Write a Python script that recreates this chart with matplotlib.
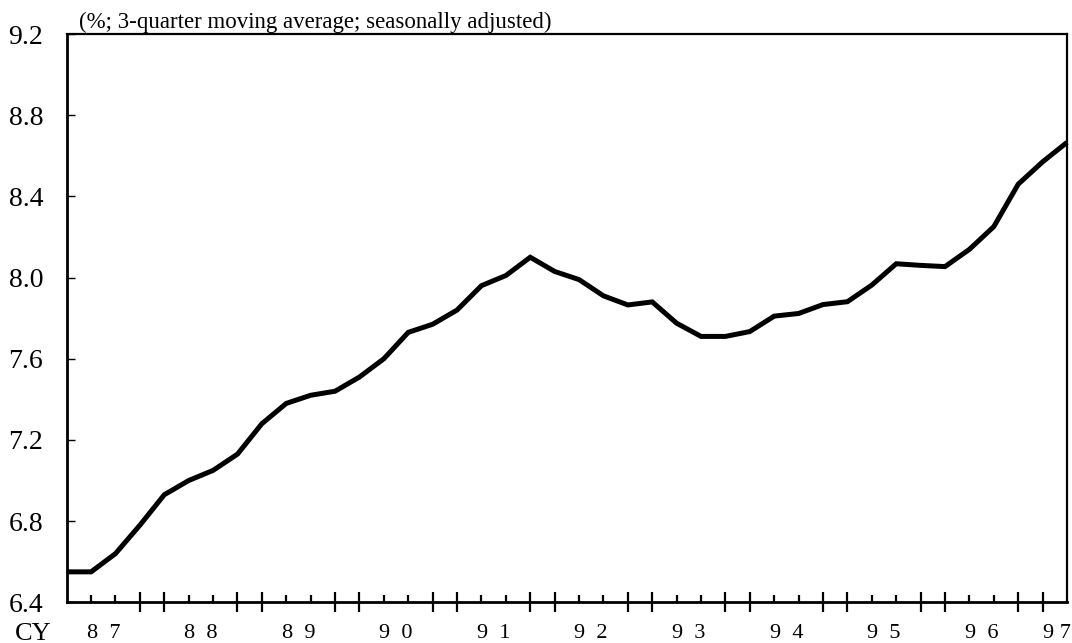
import matplotlib
matplotlib.use("Agg")
import matplotlib.pyplot as plt
import numpy as np

plt.rcParams['font.family'] = ['Liberation Serif', 'DejaVu Serif']

# Quarterly data, 1987 Q1 .. 1997 Q2 (3-quarter moving average, %)
values = [6.55, 6.55, 6.64, 6.78, 6.93, 7.00, 7.05, 7.13, 7.28, 7.38,
          7.42, 7.44, 7.51, 7.60, 7.73, 7.77, 7.84, 7.96, 8.01, 8.10,
          8.03, 7.99, 7.91, 7.865, 7.88, 7.775, 7.71, 7.71, 7.734, 7.81,
          7.823, 7.867, 7.881, 7.963, 8.068, 8.06, 8.054, 8.139, 8.251, 8.46,
          8.57, 8.666]
year_labels = ['8  7', '8  8', '8  9', '9  0', '9  1', '9  2', '9  3',
               '9  4', '9  5', '9  6', '9 7']
y_ticks = [6.4, 6.8, 7.2, 7.6, 8.0, 8.4, 8.8, 9.2]
note = '(%; 3-quarter moving average; seasonally adjusted)'

fig = plt.figure(figsize=(10.72, 6.43), dpi=100)
ax = fig.add_axes([66.7/1072, (643-602.3)/643, (1067-66.7)/1072, (602.3-34)/643])

x = np.arange(len(values))
ax.plot(x, values, color='black', lw=3.6, solid_joinstyle='miter',
        solid_capstyle='butt', clip_on=False, zorder=3)

ax.set_xlim(0, len(values) - 1)
ax.set_ylim(6.4, 9.2)

for s in ax.spines.values():
    s.set_linewidth(1.6)
    s.set_color('black')
ax.spines['bottom'].set_linewidth(2.0)
ax.spines['left'].set_linewidth(2.0)

ax.set_yticks(y_ticks)
ax.set_yticklabels([f'{v:.1f}' for v in y_ticks])
ax.tick_params(axis='y', direction='in', length=6, width=1.0, pad=17,
               labelsize=20, left=True, right=False)

n = len(values)
major = [i for i in range(1, n - 1) if i % 4 in (3, 0)]
minor = [i for i in range(1, n - 1) if i % 4 in (1, 2)]
ax.set_xticks(major)
ax.set_xticks(minor, minor=True)
ax.set_xticklabels([])
ax.tick_params(axis='x', which='major', direction='inout', length=15, width=1.6)
ax.tick_params(axis='x', which='minor', direction='in', length=5, width=1.6)

label_pos = [1.5 + 4 * k for k in range(len(year_labels) - 1)] + [40.6]
trans = ax.get_xaxis_transform()
for xp, lab in zip(label_pos, year_labels):
    ax.text(xp, -(638 - 602.3) / 568.3, lab, transform=trans, ha='center',
            va='baseline', fontsize=16)

fig.text(15/1072, 1 - 640/643, 'CY', fontsize=19, ha='left', va='baseline')
fig.text(79/1072, 1 - 28/643, note, fontsize=16.5, ha='left', va='baseline')

fig.savefig('out.png', dpi=100)
